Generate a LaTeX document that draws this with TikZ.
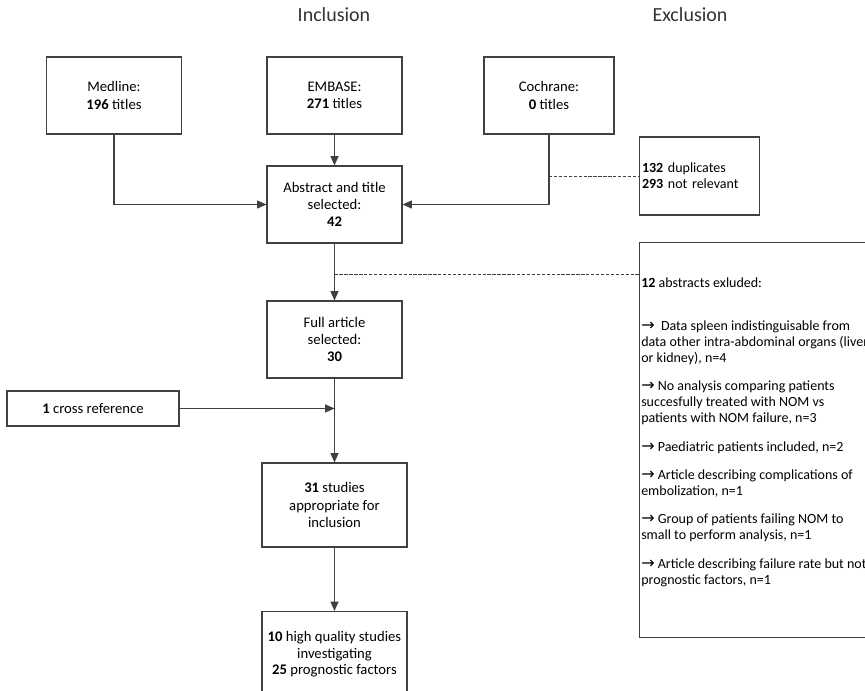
\documentclass[tikz,border=0pt]{standalone}
\usepackage{fontspec}
\setmainfont{Carlito}
\newfontfamily\symf{DejaVu Sans}
\usetikzlibrary{arrows.meta}
\newcommand{\ar}{{\symf\fontsize{12}{12}\selectfont →}}
\definecolor{ln}{HTML}{404040}
\begin{document}
\begin{tikzpicture}[x=0.75pt,y=-0.75pt,
  box/.style={draw=ln, line width=0.8pt, align=center, font=\fontsize{11}{13}\selectfont, inner sep=2pt},
  hdr/.style={font=\fontsize{15}{17}\selectfont, text=black!80},
  conn/.style={draw=ln, line width=0.8pt},
  arr/.style={conn, -{Triangle[length=7pt,width=6pt]}},
  dsh/.style={draw=ln, line width=0.6pt, dash pattern=on 2.5pt off 1.2pt}]
\useasboundingbox (0,0) rectangle (865,691);
\node[hdr] (incl) at (334,15) {Inclusion};
\node[hdr] (excl) at (690,15) {Exclusion};

\node[box, minimum width=135*0.75pt, minimum height=77*0.75pt] (medline) at (114,95.5) {Medline:\\\textbf{196} titles};
\node[box, minimum width=135*0.75pt, minimum height=77*0.75pt] (embase) at (334.5,95.5) {EMBASE:\\\textbf{271} titles};
\node[box, minimum width=130*0.75pt, minimum height=77*0.75pt] (cochrane) at (549,95.5) {Cochrane:\\\textbf{0} titles};
\node[box, minimum width=135*0.75pt, minimum height=77*0.75pt] (abstract) at (334.5,204.5) {Abstract and title\\selected:\\\textbf{42}};
\node[box, minimum width=119*0.75pt, minimum height=78*0.75pt, align=left, text width=115*0.75pt, font=\fontsize{10.5}{12}\selectfont] (dup) at (699.5,176) {\textbf{132} duplicates\\\textbf{293} not relevant};
\node[box, minimum width=135*0.75pt, minimum height=77*0.75pt] (full) at (334.5,339.5) {Full article\\selected:\\\textbf{30}};
\node[box, minimum width=172*0.75pt, minimum height=35*0.75pt] (xref) at (93,408.5) {\textbf{1} cross reference};
\node[box, minimum width=145*0.75pt, minimum height=84*0.75pt] (s31) at (334.5,505) {\textbf{31} studies\\appropriate for\\inclusion};
\node[box, minimum width=145*0.75pt, minimum height=100*0.75pt, anchor=north] (s10) at (334.5,611) {};
\node[font=\fontsize{11}{12.2}\selectfont, align=center, anchor=north] (s10t) at (334.5,627) {\textbf{10} high quality studies\\investigating\\ \textbf{25} prognostic factors};

\node[draw=ln, line width=0.8pt, anchor=north west, minimum width=240*0.75pt, minimum height=395*0.75pt, inner sep=0pt] (exbox) at (639,242) {};
\node[anchor=north west, align=left, inner sep=0pt, font=\fontsize{10.5}{12}\selectfont] (extext) at (641,278) {%
\textbf{12} abstracts exluded:\\[20pt]
\ar\ \ Data spleen indistinguisable from\\
data other intra-abdominal organs (liver\\
or kidney), n=4\\[9pt]
\ar\ No analysis comparing patients\\
succesfully treated with NOM vs\\
patients with NOM failure, n=3\\[10pt]
\ar\ Paediatric patients included, n=2\\[9pt]
\ar\ Article describing complications of\\
embolization, n=1\\[9pt]
\ar\ Group of patients failing NOM to\\
small to perform analysis, n=1\\[9.5pt]
\ar\ Article describing failure rate but not\\
prognostic factors, n=1};

\coordinate (mc) at (medline.south |- abstract.west);
\coordinate (cc) at (cochrane.south |- abstract.east);
\coordinate (cd) at (cochrane.south |- dup.west);
\coordinate (ad) at (334.5,274);
\coordinate (ae) at (exbox.west |- ad);
\coordinate (xj) at (334.5,408.5);

\draw[arr] (medline.south) -- (mc) -- (abstract.west);
\draw[arr] (embase.south) -- (abstract.north);
\draw[arr] (cochrane.south) -- (cc) -- (abstract.east);
\draw[dsh] (cd) -- (dup.west);
\draw[arr] (abstract.south) -- (full.north);
\draw[dsh] (ad) -- (ae);
\draw[arr] (full.south) -- (s31.north);
\draw[arr] (xref.east) -- (xj);
\draw[arr] (s31.south) -- (s10.north);
\end{tikzpicture}
\end{document}
